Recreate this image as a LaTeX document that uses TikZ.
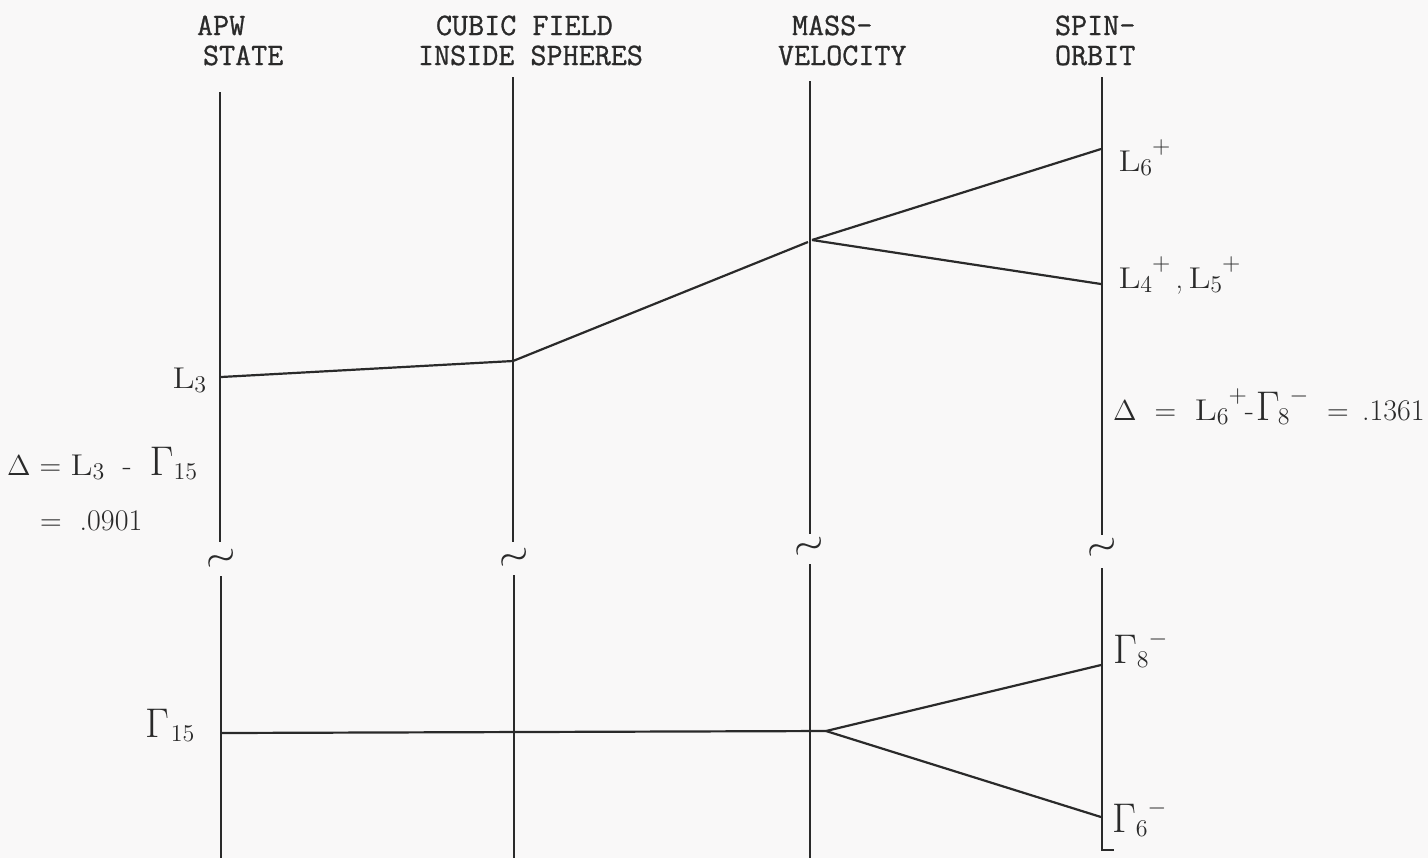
\documentclass[tikz,border=0pt]{standalone}
\usepackage{graphicx}
\usepackage{fontspec}
\newfontfamily\hdfont[FakeBold=0.9]{Latin Modern Mono}
\definecolor{ink}{HTML}{2A2A2A}
\definecolor{paper}{HTML}{F9F8F8}
\newcommand\lsub[1]{\raisebox{-2pt}{\fontsize{12}{12}\selectfont #1}}
\newcommand\lsup[1]{\raisebox{9pt}{\fontsize{12}{12}\selectfont$#1$}}
\newcommand\Gbig{{\fontsize{22}{22}\selectfont$\Gamma$}}
\newcommand\LL{\scalebox{1.3}[1]{L}}
\begin{document}
\begin{tikzpicture}[x=0.5pt,y=-0.5pt,
  every node/.style={inner sep=0pt,outer sep=0pt,text=ink},
  head/.style={anchor=base west,font=\hdfont\fontsize{15.6}{16}\selectfont},
  lab/.style={anchor=base west,font=\fontsize{15}{16}\selectfont},
  axisline/.style={draw=ink,line width=1pt},
  level/.style={draw=ink,line width=1.1pt},
  brk/.style={font=\fontsize{22}{22}\selectfont,rotate=20}]
\fill[paper] (0,0) rectangle (1428,858);
\useasboundingbox (0,0) rectangle (1428,858);
% headers
\node[head] (h1a) at (197,35) {APW};
\node[head] (h1b) at (203,65) {STATE};
\node[head] (h2a) at (436,35) {CUBIC FIELD};
\node[head] (h2b) at (418,65) {INSIDE SPHERES};
\node[head] (h3a) at (792,35) {MASS-};
\node[head] (h3b) at (778,65) {VELOCITY};
\node[head] (h4a) at (1055,35) {SPIN-};
\node[head] (h4b) at (1055,65) {ORBIT};
% axis coordinates
\coordinate (a1t) at (220,92);  \coordinate (a1m) at (220,542);
\coordinate (a1n) at (221,576); \coordinate (a1b) at (221,858);
\coordinate (a2t) at (513,77);  \coordinate (a2m) at (513,542);
\coordinate (a2n) at (514,575); \coordinate (a2b) at (514,858);
\coordinate (a3t) at (810,81);  \coordinate (a3m) at (810,534);
\coordinate (a3n) at (810,564); \coordinate (a3b) at (810,858);
\coordinate (a4t) at (1102,77); \coordinate (a4m) at (1102,535);
\coordinate (a4n) at (1102,568); \coordinate (a4b) at (1102,850);
\coordinate (tk) at (1114,850);
\draw[axisline] (a1t) -- (a1m) (a1n) -- (a1b);
\draw[axisline] (a2t) -- (a2m) (a2n) -- (a2b);
\draw[axisline] (a3t) -- (a3m) (a3n) -- (a3b);
\draw[axisline] (a4t) -- (a4m) (a4n) -- (a4b) -- (tk);
% breaks
\node[brk] (b1) at (222,561) {$\sim$};
\node[brk] (b2) at (515,560) {$\sim$};
\node[brk] (b3) at (810,549) {$\sim$};
\node[brk] (b4) at (1103,550) {$\sim$};
% upper level
\coordinate (u1) at (221,377);
\coordinate (u2) at (513,361);
\coordinate (u3) at (808,242);
\coordinate (u3b) at (812,240);
\coordinate (u4a) at (1101,149);
\coordinate (u4b) at (1101,284);
\draw[level] (u1) -- (u2) -- (u3);
\draw[level] (u3b) -- (u4a);
\draw[level] (u3b) -- (u4b);
% lower level
\coordinate (g1) at (222,733);
\coordinate (g3) at (826,731);
\coordinate (g4a) at (1101,665);
\coordinate (g4b) at (1101,817);
\draw[level] (g1) -- (g3);
\draw[level] (g3) -- (g4a);
\draw[level] (g3) -- (g4b);
% labels right
\node[lab] (l6) at (1118,171) {\LL\lsub{6}\lsup{+}};
\node[lab] (l45) at (1118,288) {\LL\lsub{4}\lsup{+}\,,\,\LL\lsub{5}\lsup{+}};
\node[lab] (dr) at (1113,420) {$\Delta$ \ = \ \LL\lsub{6}\lsup{+}\hspace{-1pt}-\hspace{1pt}\Gbig\hspace{-1pt}\lsub{8}\lsup{-}};
\node[lab] (dre) at (1327,420) {=};
\node[lab] (drv) at (1362,420) {.1361};
\node[lab] (g8) at (1113,663) {\Gbig\lsub{8}\lsup{-}};
\node[lab] (g6) at (1112,832) {\Gbig\lsub{6}\lsup{-}};
% labels left
\node[lab] (l3) at (172,388) {\LL\lsub{3}};
\node[lab] (dl) at (7,475) {$\Delta$ = \LL\lsub{3} \ - \ \Gbig\lsub{15}};
\node[lab] (dlv) at (40,530) {= \ .0901};
\node[lab] (g15) at (145,737) {\Gbig\hspace{1pt}\lsub{15}};
\end{tikzpicture}
\end{document}
